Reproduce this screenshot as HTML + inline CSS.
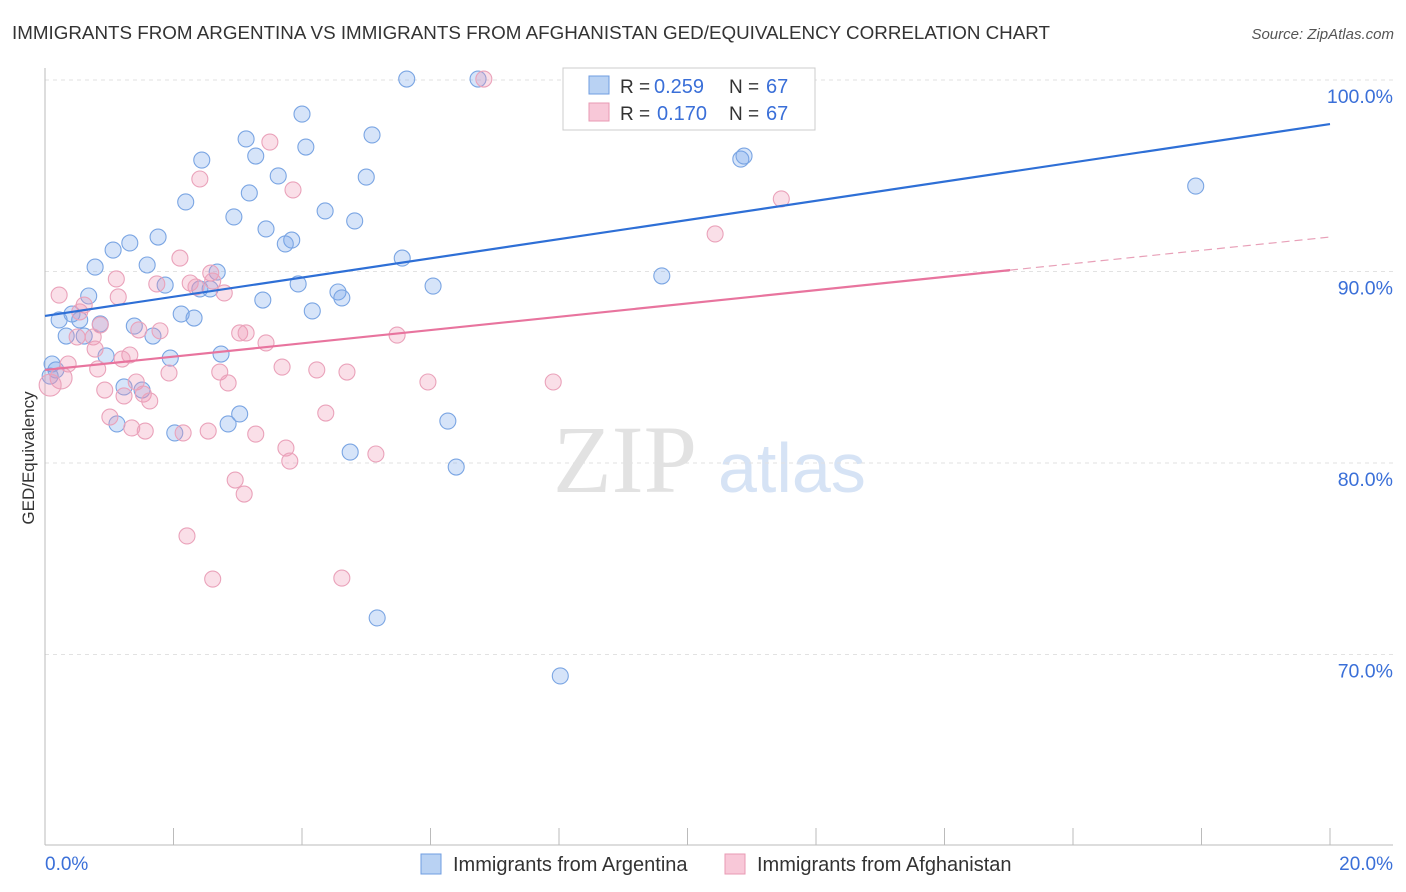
<!DOCTYPE html>
<html><head><meta charset="utf-8"><style>
body{margin:0;background:#fff;font-family:"Liberation Sans",sans-serif;}
svg{display:block}
</style></head><body>
<svg id="chart" width="1406" height="892">
<text x="12" y="39" font-size="18.8" fill="#333" textLength="1038">IMMIGRANTS FROM ARGENTINA VS IMMIGRANTS FROM AFGHANISTAN GED/EQUIVALENCY CORRELATION CHART</text>
<text x="1394" y="39" font-size="15" fill="#555" font-style="italic" text-anchor="end">Source: ZipAtlas.com</text>
<g>
<text x="553" y="492" font-size="96" font-family="Liberation Serif,serif" fill="#e2e2e2">ZIP</text>
<text x="718" y="492" font-size="70" fill="#d6e3f5">atlas</text>
</g>
<g id="grid"></g>
<g id="axes"></g>
<g id="pts"></g>
<g id="trend"></g>
<text transform="translate(34,458) rotate(-90)" font-size="17" fill="#333" text-anchor="middle">GED/Equivalency</text>
<g>
<rect x="563" y="68" width="252" height="62" fill="#fff" stroke="#ccc"/>
<rect x="589" y="76" width="20" height="18" fill="#b9d2f3" stroke="#6f9de0"/>
<rect x="589" y="103" width="20" height="18" fill="#f8c8d8" stroke="#e89ab3"/>
<text x="620" y="93" font-size="19" fill="#333">R =</text>
<text x="654" y="93" font-size="20" fill="#3a6fd8">0.259</text>
<text x="729" y="93" font-size="19" fill="#333">N =</text>
<text x="766" y="93" font-size="20" fill="#3a6fd8">67</text>
<text x="620" y="120" font-size="19" fill="#333">R =</text>
<text x="657" y="120" font-size="20" fill="#3a6fd8">0.170</text>
<text x="729" y="120" font-size="19" fill="#333">N =</text>
<text x="766" y="120" font-size="20" fill="#3a6fd8">67</text>
</g>
<g>
<rect x="421" y="854" width="20" height="20" fill="#b9d2f3" stroke="#6f9de0"/>
<text x="453" y="871" font-size="20" fill="#333">Immigrants from Argentina</text>
<rect x="725" y="854" width="20" height="20" fill="#f8c8d8" stroke="#e89ab3"/>
<text x="757" y="871" font-size="20" fill="#333">Immigrants from Afghanistan</text>
</g>
</svg>
<script>
const blueX=[5.63,6.74,8.19,8.95,4.00,5.09,3.13,4.06,3.28,2.44,10.83,10.88,3.63,5.00,3.18,17.91,2.19,4.36,2.94,4.82,3.44,3.84,3.74,1.76,1.32,1.06,1.59,0.78,5.56,2.68,9.60,3.94,6.04,1.87,2.41,2.57,0.68,4.56,4.62,3.39,4.16,2.12,2.32,0.42,0.22,0.54,0.86,1.39,0.33,0.61,1.68,2.74,0.95,1.95,0.11,0.17,0.08,1.23,1.51,3.03,1.12,2.85,2.02,6.27,4.75,6.40,5.17,8.02];
const blueY=[100.05,100.05,100.05,100.05,98.22,97.13,96.92,96.50,96.03,95.82,95.87,96.03,94.99,94.93,94.10,94.46,93.63,93.16,92.85,92.64,92.22,91.64,91.44,91.80,91.49,91.12,90.34,90.23,90.70,89.97,89.77,89.35,89.24,89.29,89.09,89.09,88.72,88.93,88.62,88.51,87.94,87.78,87.57,87.78,87.47,87.47,87.26,87.15,86.63,86.63,86.63,85.69,85.59,85.48,85.17,84.86,84.54,83.97,83.81,82.56,82.04,82.04,81.57,82.19,80.57,79.79,71.91,68.88];
const pinkX=[6.83,3.50,2.41,3.86,11.46,10.43,2.10,2.58,1.11,2.61,1.74,2.26,2.35,2.79,0.22,1.14,0.61,0.54,0.86,1.46,1.79,0.50,0.75,5.48,3.03,3.13,3.44,0.78,1.32,1.20,0.36,0.82,3.69,2.72,1.93,4.23,4.70,0.25,0.08,5.96,7.91,2.85,1.42,0.93,1.23,1.53,1.63,4.37,1.01,1.35,1.56,2.15,2.54,3.28,3.75,3.81,5.15,2.96,3.10,2.21,2.61,4.62];
const pinkY=[100.05,96.76,94.83,94.26,93.79,91.96,90.70,89.92,89.61,89.50,89.35,89.40,89.19,88.88,88.77,88.67,88.25,87.89,87.21,86.95,86.90,86.58,86.58,86.68,86.79,86.79,86.27,85.95,85.64,85.43,85.17,84.91,85.01,84.75,84.70,84.86,84.75,84.44,84.07,84.23,84.23,84.18,84.23,83.81,83.50,83.60,83.24,82.61,82.40,81.83,81.67,81.57,81.67,81.51,80.78,80.10,80.47,79.11,78.38,76.19,73.94,73.99];
const yTicks=[100,90,80,70];
const yTickLabels=["100.0%","90.0%","80.0%","70.0%"];
const blueTrend=[87.68,97.70];
const pinkTrend=[84.86,91.80];
const pinkSolidEnd=15.02;

const NS="http://www.w3.org/2000/svg";
const sx=v=>45+v*64.25;
const sy=v=>80+(100-v)*19.15;
function mk(tag,attrs,parent){const e=document.createElementNS(NS,tag);for(const k in attrs)e.setAttribute(k,attrs[k]);parent.appendChild(e);return e;}
const grid=document.getElementById('grid'),axes=document.getElementById('axes'),pts=document.getElementById('pts'),tr=document.getElementById('trend');
yTicks.forEach((t,i)=>{
  const l=mk('line',{x1:45,x2:1393,y1:sy(t),y2:sy(t),stroke:'#e2e2e2','stroke-dasharray':'4,4'},grid);
  
  
  const tx=mk('text',{x:1393,y:sy(t)+23,'font-size':19.5,fill:'#3a6fd8','text-anchor':'end'},axes);
  tx.textContent=yTickLabels[i];
  
  
});
let a=mk('line',{x1:45,x2:45,y1:68,y2:845,stroke:'#bbb'},axes);


a=mk('line',{x1:45,x2:1393,y1:845,y2:845,stroke:'#bbb'},axes);


for(let i=0;i<=10;i++){
  const t=mk('line',{x1:sx(i*2),x2:sx(i*2),y1:828,y2:845,stroke:'#bbb'},axes);
  
  
}
let t=mk('text',{x:45,y:870,'font-size':19,fill:'#3a6fd8'},axes);t.textContent='0.0%';


t=mk('text',{x:1393,y:870,'font-size':19,fill:'#3a6fd8','text-anchor':'end'},axes);t.textContent='20.0%';


blueX.forEach((x,i)=>{
  const c=mk('circle',{cx:sx(x),cy:sy(blueY[i]),r:8,fill:'rgba(120,165,235,0.3)',stroke:'#7aa5e3','stroke-width':1.1},pts);
  
  
});
pinkX.forEach((x,i)=>{
  const c=mk('circle',{cx:sx(x),cy:sy(pinkY[i]),r:(x<0.3&&pinkY[i]<84.5)?11:8,fill:'rgba(240,150,180,0.3)',stroke:'#eaa2ba','stroke-width':1.1},pts);
  
  
});
let l=mk('line',{x1:sx(0),y1:sy(blueTrend[0]),x2:sx(20),y2:sy(blueTrend[1]),stroke:'#2e6fd6','stroke-width':2.2},tr);


const pAt=x=>pinkTrend[0]+(pinkTrend[1]-pinkTrend[0])*x/20;
l=mk('line',{x1:sx(0),y1:sy(pinkTrend[0]),x2:sx(pinkSolidEnd),y2:sy(pAt(pinkSolidEnd)),stroke:'#e8749e','stroke-width':2.2},tr);


l=mk('line',{x1:sx(pinkSolidEnd),y1:sy(pAt(pinkSolidEnd)),x2:sx(20),y2:sy(pinkTrend[1]),stroke:'#e8a0b8','stroke-width':1.2,'stroke-dasharray':'8,5'},tr);


</script>
</body></html>
